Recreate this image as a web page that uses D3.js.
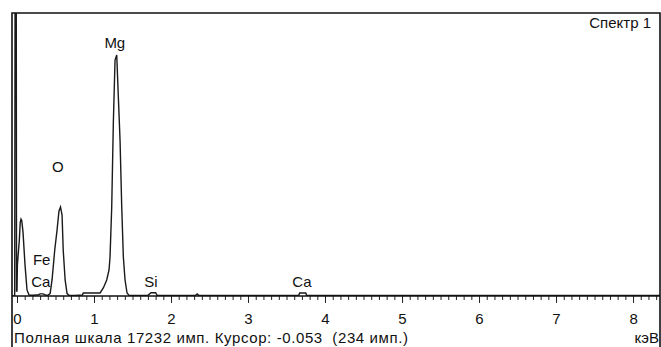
<!DOCTYPE html>
<html>
<head>
<meta charset="utf-8">
<script src="https://cdn.jsdelivr.net/npm/d3@7"></script>
<style>
  body { margin: 0; background: #fff; }
  svg text { font-family: "Liberation Sans", Arial, sans-serif; font-size: 15px; fill: #111; }
</style>
</head>
<body>
<script>
// spectrum: energy (keV) and counts
const energy = [-0.065, -0.03, -0.022, -0.012, -0.006, 0.0, 0.005, 0.03, 0.042, 0.052, 0.062, 0.078, 0.104, 0.13, 0.156,
  0.2, 0.27, 0.3, 0.34, 0.37, 0.40,
  0.43, 0.455, 0.49, 0.52, 0.545, 0.565, 0.585, 0.60, 0.625, 0.65, 0.675,
  0.75, 0.85, 0.86, 1.06,
  1.078, 1.121, 1.165, 1.195, 1.208, 1.230, 1.251, 1.273, 1.295, 1.316, 1.338, 1.360, 1.381, 1.403, 1.429, 1.455,
  1.7, 1.74, 1.8, 1.82, 2.32, 2.34, 2.36, 3.66, 3.67, 3.75, 3.76, 8.35]
const counts = [0, 0, 30000, 30000, 300, 300, 1900, 3400, 4500, 4700, 4600, 3900, 1900, 370, 60,
  50, 60, 130, 130, 60, 40,
  150, 980, 2810, 4030, 5200, 5440, 4950, 2810, 980, 150, 40,
  40, 60, 180, 180,
  183, 489, 978, 1590, 2380, 5440, 10570, 14420, 14730, 12160, 9530, 5440, 2380, 978, 183, 40,
  40, 200, 200, 40, 40, 120, 40, 40, 180, 180, 40, 30]

// element labels and where they sit (keV, counts)
const peakNames = ["Mg", "O", "Fe", "Ca", "Si", "Ca"]
const peakEnergy = [1.27, 0.53, 0.32, 0.31, 1.74, 3.70]
const peakCounts = [15150, 7580, 1900, 550, 550, 550]

const tickValues = [0, 1, 2, 3, 4, 5, 6, 7, 8]
const fullScale = 17232

const WIDTH = 661
const HEIGHT = 347
const LEFT = 12, TOP = 13, RIGHT = 660, BASE = 296

const svg = d3.select("body").append("svg").attr("width", WIDTH).attr("height", HEIGHT)

const x = d3.scaleLinear().domain([-0.065, 8.35]).range([LEFT, RIGHT])
const y = d3.scaleLinear().domain([0, fullScale]).range([BASE, TOP + 1])

svg.append("clipPath").attr("id", "plot")
  .append("rect").attr("x", LEFT).attr("y", TOP).attr("width", RIGHT - LEFT).attr("height", BASE - TOP)

const pts = energy.map((e, i) => [e, counts[i]])
svg.append("path")
  .datum(pts)
  .attr("clip-path", "url(#plot)")
  .attr("fill", "none")
  .attr("stroke", "#1a1a1a")
  .attr("stroke-width", 1.4)
  .attr("d", d3.line().x(d => x(d[0])).y(d => y(d[1])))

// minor ticks every 0.1 keV
const minor = d3.range(0, 84).map(i => i / 10).filter(v => v % 1 !== 0)
svg.append("g")
  .attr("transform", `translate(0,${BASE})`)
  .call(d3.axisBottom(x).tickValues(minor).tickSize(4).tickFormat(""))
  .call(g => g.select(".domain").remove())

svg.append("g")
  .attr("transform", `translate(0,${BASE})`)
  .call(d3.axisBottom(x).tickValues(tickValues).tickSize(7).tickPadding(10).tickFormat(d3.format("d")))
  .call(g => g.select(".domain").remove())
  .call(g => g.selectAll("text").style("font-size", "15px").attr("fill", "#111"))

svg.selectAll(".tick line").attr("stroke", "#222").attr("stroke-width", 1)

// axis line
svg.append("line").attr("x1", LEFT).attr("x2", RIGHT).attr("y1", BASE).attr("y2", BASE)
  .attr("stroke", "#111").attr("stroke-width", 1.5)

// frame
svg.append("path")
  .attr("d", `M${LEFT},${HEIGHT + 5}V${TOP}H${RIGHT}V${HEIGHT + 5}`)
  .attr("fill", "none").attr("stroke", "#111").attr("stroke-width", 1.6)

svg.selectAll(".peak")
  .data(peakNames)
  .enter()
  .append("text")
  .attr("class", "peak")
  .attr("text-anchor", "middle")
  .attr("x", (d, i) => x(peakEnergy[i]))
  .attr("y", (d, i) => y(peakCounts[i]))
  .text(d => d)

svg.append("text").attr("x", 651).attr("y", 28).attr("text-anchor", "end").text("Спектр 1")

svg.append("text").attr("x", 14).attr("y", 343).style("white-space", "pre")
  .attr("textLength", 394).attr("lengthAdjust", "spacing")
  .text("Полная шкала 17232 имп. Курсор: -0.053  (234 имп.)")

svg.append("text").attr("x", 659).attr("y", 343).attr("text-anchor", "end").text("кэВ")
</script>
</body>
</html>
